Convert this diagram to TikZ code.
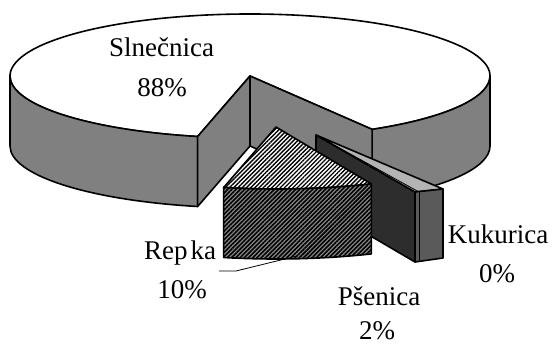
\documentclass[tikz,border=0pt]{standalone}
\usepackage{fontspec}
\setmainfont{Liberation Serif}
\usetikzlibrary{patterns.meta}
\definecolor{wallgray}{HTML}{808080}
\definecolor{psdark}{HTML}{2D2D2D}
\definecolor{pslight}{HTML}{B4B4B4}
\definecolor{psfront}{HTML}{5A5A5A}
\definecolor{hatchgray}{HTML}{8A8A8A}
\begin{document}
\begin{tikzpicture}[x=1pt, y=1pt, yscale=-1, line join=round,
  ol/.style={draw=black, line width=1.6pt},
  thinl/.style={draw=black, line width=0.8pt},
  lbl/.style={anchor=base, inner sep=0pt, font=\fontsize{27}{30}\selectfont},
  er/.style={x radius=240pt, y radius=62pt}]
\useasboundingbox (0,0) rectangle (552,345);
% ---------- Slnecnica (main body) ----------
\path[ol, fill=white] (250,76) -- (197.65,136.5)
  arc[start angle=102.6, end angle=419.4, er] -- cycle;
\path[ol, fill=wallgray] (197.65,136.5) arc[start angle=102.6, end angle=180, er]
  -- (10,146) arc[start angle=180, end angle=102.6, er] -- cycle;
\path[ol, fill=wallgray] (490,76) arc[start angle=0, end angle=59.4, er]
  -- (372.17,199.37) arc[start angle=59.4, end angle=0, er] -- cycle;
\path[ol, fill=wallgray] (250,76) -- (372.17,129.37) -- (372.17,199.37) -- (250,146) -- cycle;
\path[ol, fill=wallgray] (250,76) -- (197.65,136.5) -- (197.65,206.5) -- (250,146) -- cycle;
% ---------- Psenica / Kukurica ----------
\path[ol, fill=psdark] (316,135) -- (415,192) -- (415,262) -- (316,204) -- cycle;
\path[ol, fill=pslight] (316,135) -- (443,189) -- (415,192) -- cycle;
\draw[thinl] (316,135) -- (419,192);
\path[ol, fill=psfront] (415,192) -- (443,189) -- (443,258) -- (415,262) -- cycle;
\draw[thinl] (419,192) -- (419,261.5);
% ---------- Repka ----------
\path[ol, preaction={fill=white},
  pattern={Lines[angle=45, distance=3pt, line width=1.35pt]}, pattern color=black]
  (276,127) -- (223.65,187.5) arc[start angle=102.6, end angle=66.6, er] -- cycle;
\path[ol, preaction={fill=hatchgray},
  pattern={Lines[angle=45, distance=3pt, line width=1.6pt]}, pattern color=black]
  (223.65,187.5) arc[start angle=102.6, end angle=66.6, er]
  -- (371.3,253.9) arc[start angle=66.6, end angle=102.6, er] -- cycle;
% ---------- labels ----------
\node[lbl] (sl1) at (161.5,57) {Slnečnica};
\node[lbl] (sl2) at (162,97) {88\%};
\node[lbl] (re1) at (180,259) {Rep\kern3pt ka};
\node[lbl] (re2) at (182,298) {10\%};
\node[lbl] (ku1) at (498,243) {Kukurica};
\node[lbl] (ku2) at (497,282) {0\%};
\node[lbl] (ps1) at (379,305) {Pšenica};
\node[lbl] (ps2) at (377,339) {2\%};
\coordinate (leadA) at (219,271);
\coordinate (leadB) at (236,271);
\coordinate (leadC) at (297,256);
\draw[line width=0.8pt] (leadA) -- (leadB) -- (leadC);
\end{tikzpicture}
\end{document}
